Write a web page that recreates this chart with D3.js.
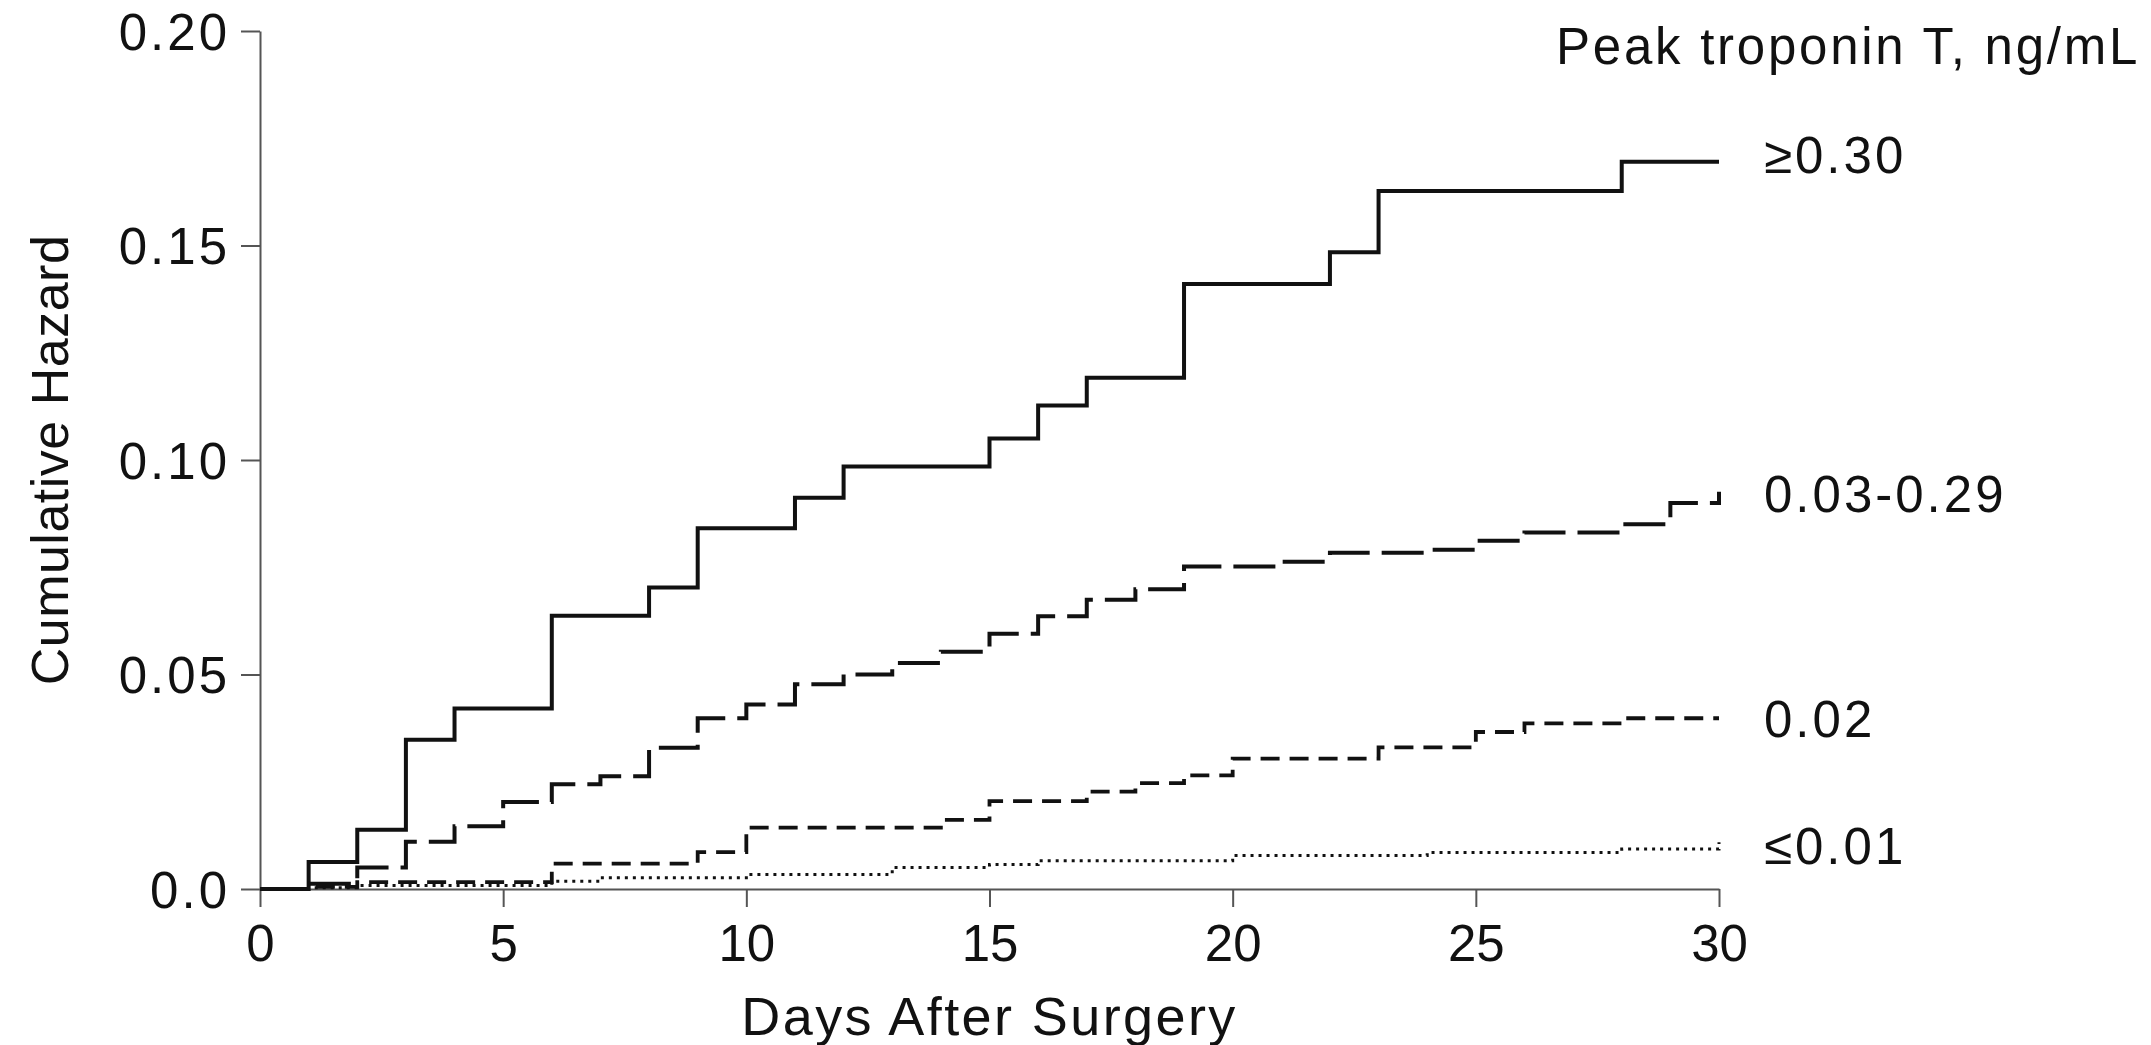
<!DOCTYPE html>
<html>
<head>
<meta charset="utf-8">
<script src="https://cdn.jsdelivr.net/npm/d3@7"></script>
<style>
  body { margin: 0; background: #fff; }
  svg { display: block; }
  text { font-family: "Liberation Sans", Arial, Helvetica, sans-serif; fill: #111; }
</style>
</head>
<body>
<svg id="chart" width="2151" height="1045"></svg>
<script>
// ---------------- data ----------------
const groupLabels = ["\u22650.30", "0.03-0.29", "0.02", "\u22640.01"];
const legendTitle = "Peak troponin T, ng/mL";
const xTitle = "Days After Surgery";
const yTitle = "Cumulative Hazard";

const daysHigh   = [0, 1, 2, 3, 4, 6, 8, 9, 11, 12, 15, 16, 17, 19, 22, 23, 28, 30];
const hazardHigh = [0, 0.0063, 0.0138, 0.0348, 0.0421, 0.0637, 0.0703, 0.0841, 0.0912, 0.0985, 0.1050, 0.1127, 0.1192, 0.1410, 0.1484, 0.1627, 0.1695, 0.1695];

const daysMid   = [0, 1, 2, 3, 4, 5, 6, 7, 8, 9, 10, 11, 12, 13, 14, 15, 16, 17, 18, 19, 21, 22, 24, 25, 26, 28, 29, 30];
const hazardMid = [0, 0.0012, 0.0050, 0.0110, 0.0146, 0.0203, 0.0244, 0.0263, 0.0329, 0.0398, 0.0430, 0.0477, 0.0500, 0.0527, 0.0553, 0.0595, 0.0636, 0.0674, 0.0699, 0.0752, 0.0763, 0.0784, 0.0791, 0.0812, 0.0831, 0.0850, 0.0900, 0.0926];

const daysLow   = [0, 1, 2, 6, 9, 10, 14, 15, 17, 18, 19, 20, 23, 25, 26, 28, 30];
const hazardLow = [0, 0.0005, 0.0016, 0.0059, 0.0086, 0.0143, 0.0161, 0.0205, 0.0227, 0.0247, 0.0265, 0.0304, 0.0330, 0.0366, 0.0386, 0.0398, 0.0398];

const daysMin   = [0, 1, 2, 6, 7, 10, 13, 15, 16, 20, 24, 28, 30];
const hazardMin = [0, 0.0003, 0.0008, 0.0018, 0.0026, 0.0034, 0.0050, 0.0057, 0.0066, 0.0078, 0.0085, 0.0093, 0.0109];

const xTicks = [0, 5, 10, 15, 20, 25, 30];
const xTickLabels = ["0", "5", "10", "15", "20", "25", "30"];
const yTicks = [0, 0.05, 0.10, 0.15, 0.20];
const yTickLabels = ["0.0", "0.05", "0.10", "0.15", "0.20"];

// ---------------- styles ----------------
const seriesStyle = [
  { width: 4.0, dash: null,      labelNudge: -7 },
  { width: 4.0, dash: "42,12",   labelNudge: 2 },
  { width: 3.8, dash: "19,10",   labelNudge: 0 },
  { width: 3.0, dash: "3,5",     labelNudge: 3 }
];

const seriesList = [
  { label: groupLabels[0], days: daysHigh, hazard: hazardHigh },
  { label: groupLabels[1], days: daysMid,  hazard: hazardMid },
  { label: groupLabels[2], days: daysLow,  hazard: hazardLow },
  { label: groupLabels[3], days: daysMin,  hazard: hazardMin }
];

// ---------------- layout ----------------
const svg = d3.select("#chart");
const x = d3.scaleLinear().domain([0, 30]).range([260, 1719]);
const y = d3.scaleLinear().domain([0, 0.20]).range([889, 31]);

const axisColor = "#555";
const numSpacing = 3;

// y axis
const gy = svg.append("g")
  .attr("transform", `translate(${x(0)},0)`)
  .call(d3.axisLeft(y).tickValues(yTicks).tickFormat((d, i) => yTickLabels[i])
    .tickSize(19).tickSizeOuter(0).tickPadding(11));
gy.select(".domain").attr("stroke", axisColor).attr("stroke-width", 2);
gy.selectAll(".tick line").attr("stroke", axisColor).attr("stroke-width", 2);
gy.selectAll(".tick text").attr("font-size", 51).attr("fill", "#111")
  .attr("letter-spacing", numSpacing)
  .attr("font-family", '"Liberation Sans", Arial, sans-serif').attr("dy", "0.36em");

// x axis
const gx = svg.append("g")
  .attr("transform", `translate(0,${y(0)})`)
  .call(d3.axisBottom(x).tickValues(xTicks).tickFormat((d, i) => xTickLabels[i])
    .tickSize(18).tickSizeOuter(0).tickPadding(18));
gx.select(".domain").attr("stroke", axisColor).attr("stroke-width", 2);
gx.selectAll(".tick line").attr("stroke", axisColor).attr("stroke-width", 2);
gx.selectAll(".tick text").attr("font-size", 51).attr("fill", "#111")
  .attr("font-family", '"Liberation Sans", Arial, sans-serif').attr("dy", "0.71em");

// lines
const line = d3.line().x(d => x(d[0])).y(d => y(d[1])).curve(d3.curveStepAfter);

seriesList.forEach((s, i) => {
  const pts = s.days.map((d, j) => [d, s.hazard[j]]);
  const st = seriesStyle[i];
  svg.append("path")
    .datum(pts)
    .attr("d", line)
    .attr("fill", "none")
    .attr("stroke", "#111")
    .attr("stroke-width", st.width)
    .attr("stroke-dasharray", st.dash)
    .attr("stroke-linejoin", "miter");

  const last = s.hazard[s.hazard.length - 1];
  svg.append("text")
    .attr("x", x(30) + 45)
    .attr("y", y(last) + st.labelNudge)
    .attr("dy", "0.36em")
    .attr("font-size", 51)
    .attr("letter-spacing", numSpacing)
    .text(s.label);
});

// legend title
svg.append("text")
  .attr("x", 1556)
  .attr("y", 64)
  .attr("font-size", 51)
  .attr("letter-spacing", 2.75)
  .text(legendTitle);

// axis titles
svg.append("text")
  .attr("x", (x(0) + x(30)) / 2)
  .attr("y", 1035)
  .attr("text-anchor", "middle")
  .attr("font-size", 54)
  .attr("letter-spacing", 2.4)
  .text(xTitle);

svg.append("text")
  .attr("transform", `translate(68,${(y(0) + y(0.2)) / 2}) rotate(-90)`)
  .attr("text-anchor", "middle")
  .attr("font-size", 52)
  .attr("letter-spacing", 0.5)
  .text(yTitle);
</script>
</body>
</html>
